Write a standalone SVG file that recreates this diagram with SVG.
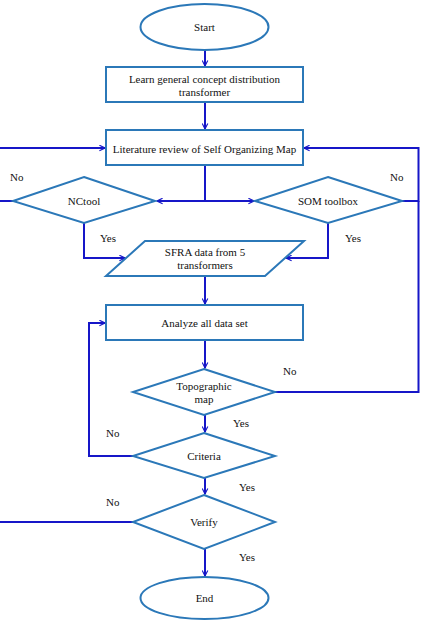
<svg xmlns="http://www.w3.org/2000/svg" width="421" height="625" viewBox="0 0 421 625">
<defs>
<marker id="arr" viewBox="0 0 10 10" refX="9" refY="5" markerWidth="7" markerHeight="7" markerUnits="userSpaceOnUse" orient="auto">
<path d="M1,1 L9,5 L1,9" fill="none" stroke="#1616c8" stroke-width="1.6"/>
</marker>
</defs>
<style>
.n{fill:#fff;stroke:#2b78b8;stroke-width:2}
.t{font-size:11px;fill:#111;text-anchor:middle}
.c{fill:none;stroke:#1616c8;stroke-width:2}
.l{font-size:11px;fill:#111}
</style>
<rect width="421" height="625" fill="#fff"/>
<g id="connectors">
<path class="c" d="M205,50 V66" marker-end="url(#arr)"/>
<path class="c" d="M205,102 V129" marker-end="url(#arr)"/>
<path class="c" d="M205,165 V201"/>
<path class="c" d="M205,201 H157" marker-end="url(#arr)"/>
<path class="c" d="M205,201 H254" marker-end="url(#arr)"/>
<path class="c" d="M13,201 H0"/>
<path class="c" d="M0,148 H105" marker-end="url(#arr)"/>
<path class="c" d="M402,201 H418.5 V148 H304" marker-end="url(#arr)"/>
<path class="c" d="M84,223 V258 H125" marker-end="url(#arr)"/>
<path class="c" d="M328,223 V258 H286" marker-end="url(#arr)"/>
<path class="c" d="M205,276 V304" marker-end="url(#arr)"/>
<path class="c" d="M205,340 V368" marker-end="url(#arr)"/>
<path class="c" d="M275,392 H418.5 V201"/>
<path class="c" d="M205,415 V432" marker-end="url(#arr)"/>
<path class="c" d="M133,456 H89 V323 H105" marker-end="url(#arr)"/>
<path class="c" d="M205,478 V494" marker-end="url(#arr)"/>
<path class="c" d="M133,522 H0"/>
<path class="c" d="M205,549 V576" marker-end="url(#arr)"/>
</g>
<g font-family="'Liberation Serif', 'Times New Roman', 'DejaVu Serif', serif">
<g id="start"><ellipse class="n" cx="204.5" cy="27" rx="64" ry="23"/><text class="t" x="204.5" y="31">Start</text></g>
<g id="learn"><rect class="n" x="106" y="67" width="197" height="35"/><text class="t" x="204.5" y="83">Learn general concept distribution</text><text class="t" x="204.5" y="96">transformer</text></g>
<g id="literature"><rect class="n" x="106" y="130" width="197" height="35"/><text class="t" x="204.5" y="153">Literature review of Self Organizing Map</text></g>
<g id="nctool"><polygon class="n" points="84,177 155,201 84,223 13,201"/><text class="t" x="84" y="205">NCtool</text></g>
<g id="somtoolbox"><polygon class="n" points="328,177 402,201 328,223 255,201"/><text class="t" x="328" y="205">SOM toolbox</text></g>
<g id="sfra"><polygon class="n" points="145,241 304,241 265,276 106,276"/><text class="t" x="205" y="256">SFRA data from 5</text><text class="t" x="205" y="269">transformers</text></g>
<g id="analyze"><rect class="n" x="106" y="305" width="197" height="35"/><text class="t" x="204.5" y="327">Analyze all data set</text></g>
<g id="topographic"><polygon class="n" points="204,369 275,392 204,415 133,392"/><text class="t" x="204" y="390">Topographic</text><text class="t" x="204" y="403">map</text></g>
<g id="criteria"><polygon class="n" points="204,433 275,456 204,478 133,456"/><text class="t" x="204" y="460">Criteria</text></g>
<g id="verify"><polygon class="n" points="204,495 275,522 204,549 133,522"/><text class="t" x="204" y="526">Verify</text></g>
<g id="end"><ellipse class="n" cx="204.5" cy="598" rx="64" ry="21"/><text class="t" x="204.5" y="602">End</text></g>
<g id="labels">
<text class="l" x="10" y="181">No</text>
<text class="l" x="390" y="181">No</text>
<text class="l" x="100" y="242">Yes</text>
<text class="l" x="345" y="242">Yes</text>
<text class="l" x="283" y="375">No</text>
<text class="l" x="233" y="427">Yes</text>
<text class="l" x="106" y="437">No</text>
<text class="l" x="239" y="491">Yes</text>
<text class="l" x="106" y="506">No</text>
<text class="l" x="239" y="561">Yes</text>
</g>
</g>
</svg>
